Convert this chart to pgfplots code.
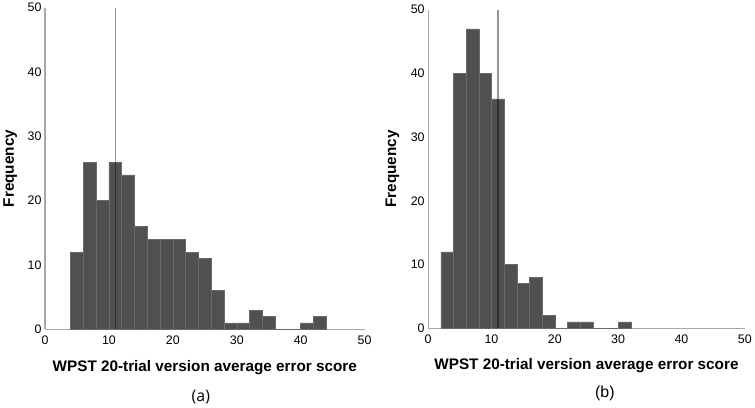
\documentclass[border=0pt]{standalone}
\usepackage{fontspec}
\setmainfont{Liberation Sans}
\newfontfamily\capfont{Open Sans}
\usepackage{pgfplots}
\pgfplotsset{compat=1.18}

\definecolor{barfill}{HTML}{505050}
\definecolor{baredge}{HTML}{6A6A6A}
\definecolor{axisgray}{HTML}{A8A8A8}

\pgfplotsset{
  histo/.style={
    scale only axis,
    anchor=south west,
    xmin=0, xmax=50, ymin=0, ymax=50,
    xtick={0,10,...,50}, ytick={0,10,...,50},
    axis x line*=bottom, axis y line*=left,
    axis line style={axisgray, line width=1.1pt},
    major tick length=0pt,
    /pgf/number format/assume math mode=true,
    tick label style={font=\fontsize{12.5}{14}\selectfont},
    xticklabel style={yshift=-3pt},
    xlabel={WPST 20-trial version average error score},
    ylabel={Frequency},
    label style={font=\bfseries\fontsize{15.4}{17}\selectfont},
    clip=false,
  },
  bars/.style={ybar interval, fill=barfill, draw=baredge, line width=0.5pt},
  mean/.style={black, opacity=0.42, line width=1.6pt},
}

% bin counts, bin width 2; each row gives the left edge of a bin
\pgfplotstableread{
x   n
4   12
6   26
8   20
10  26
12  24
14  16
16  14
18  14
20  14
22  12
24  11
26  6
28  1
30  1
32  3
34  2
36  0
38  0
40  1
42  2
44  0
}\scoresA

\pgfplotstableread{
x   n
2   12
4   40
6   47
8   40
10  36
12  10
14  7
16  8
18  2
20  0
22  1
24  1
26  0
28  0
30  1
32  0
}\scoresB

\begin{document}
\begin{tikzpicture}[x=1pt, y=1pt]
\path (0,0) rectangle (755,404);

\begin{axis}[histo, at={(42pt,76pt)}, width=322pt, height=324pt,
  xlabel style={at={(axis description cs:0.5,-0.12)}, anchor=center},
  ylabel style={at={(axis description cs:-0.109,0.5)}, anchor=center}]
  \addplot[bars] table[x=x, y=n] {\scoresA};
  \addplot[mean] coordinates {(11,0) (11,50)};
\end{axis}

\begin{axis}[histo, at={(428pt,77pt)}, width=319pt, height=321pt,
  xlabel style={at={(axis description cs:0.5,-0.118)}, anchor=center},
  ylabel style={at={(axis description cs:-0.113,0.5)}, anchor=center}]
  \addplot[bars] table[x=x, y=n] {\scoresB};
  \addplot[mean] coordinates {(11,0) (11,50)};
\end{axis}

\node[font=\capfont\fontsize{16}{18}\selectfont] at (199,8) {(a)};
\node[font=\fontsize{16}{18}\selectfont] at (606,11) {(b)};
\end{tikzpicture}
\end{document}
